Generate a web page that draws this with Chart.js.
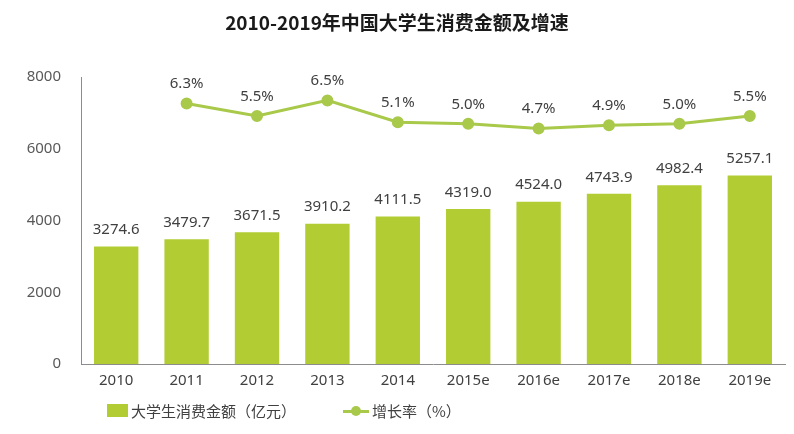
<!DOCTYPE html>
<html lang="zh">
<head>
<meta charset="UTF-8">
<title>2010-2019年中国大学生消费金额及增速</title>
<script src="https://cdn.jsdelivr.net/npm/chart.js"></script>
<style>
  body { margin: 0; background: #fff; }
  #wrap { position: relative; width: 794px; height: 434px; }
  #title {
    position: absolute; left: 0; top: 8px; width: 794px; text-align: center;
    font: bold 19px "Noto Sans CJK SC", sans-serif; color: #1a1a1a;
  }
  .leg {
    position: absolute; top: 400px; font: 15px "Noto Sans CJK SC", sans-serif; color: #404040;
    display: flex; align-items: center;
  }
  .swatch { display: inline-block; width: 21px; height: 13px; background: #b1cd33; margin-right: 3px; }
  .lineico { position: relative; display: inline-block; width: 26px; height: 12px; margin-right: 3px; }
  .lineico:before { content: ""; position: absolute; left: 0; right: 0; top: 5px; height: 3px; background: #a9c94a; }
  .lineico:after { content: ""; position: absolute; left: 8px; top: 1px; width: 10px; height: 10px; border-radius: 50%; background: #a9c94a; }
</style>
</head>
<body>
<div id="wrap">
  <div id="title">2010-2019年中国大学生消费金额及增速</div>
  <canvas id="c" width="794" height="434"></canvas>
  <div class="leg" style="left:107px"><span class="swatch"></span>大学生消费金额（亿元）</div>
  <div class="leg" style="left:343px"><span class="lineico"></span>增长率（%）</div>
</div>
<script>
  var years = ['2010', '2011', '2012', '2013', '2014', '2015e', '2016e', '2017e', '2018e', '2019e'];
  var spending = [3274.6, 3479.7, 3671.5, 3910.2, 4111.5, 4319.0, 4524.0, 4743.9, 4982.4, 5257.1];
  var growth = [null, 6.3, 5.5, 6.5, 5.1, 5.0, 4.7, 4.9, 5.0, 5.5];

  var valueLabels = {
    id: 'valueLabels',
    afterDatasetsDraw: function (chart) {
      var ctx = chart.ctx;
      ctx.save();
      ctx.fillStyle = '#404040';
      ctx.font = '15px "Noto Sans", sans-serif';
      ctx.textAlign = 'center';
      ctx.textBaseline = 'bottom';
      chart.getDatasetMeta(0).data.forEach(function (bar, i) {
        ctx.fillText(spending[i].toFixed(1), bar.x, bar.y - 9);
      });
      chart.getDatasetMeta(1).data.forEach(function (pt, i) {
        if (growth[i] == null) return;
        ctx.fillText(growth[i].toFixed(1) + '%', pt.x, pt.y - 12);
      });
      ctx.restore();
    }
  };

  var ctx = document.getElementById('c').getContext('2d');
  new Chart(ctx, {
    data: {
      labels: years,
      datasets: [{
        type: 'bar',
        label: '大学生消费金额（亿元）',
        data: spending,
        backgroundColor: '#b1cd33',
        categoryPercentage: 1,
        barPercentage: 0.63,
        yAxisID: 'y',
        order: 2
      }, {
        type: 'line',
        label: '增长率（%）',
        data: growth,
        borderColor: '#a9c94a',
        backgroundColor: '#a9c94a',
        borderWidth: 3,
        pointRadius: 4.5,
        tension: 0,
        yAxisID: 'y2',
        order: 1
      }]
    },
    options: {
      responsive: false,
      animation: false,
      layout: { padding: { left: 21, right: 9, top: 77, bottom: 40 } },
      plugins: { legend: { display: false }, tooltip: { enabled: false } },
      scales: {
        x: {
          grid: { display: false, drawTicks: false },
          border: { color: '#8c8c8c', width: 1 },
          ticks: { color: '#404040', font: { size: 15, family: 'Noto Sans' }, padding: 8 },
          afterFit: function (s) { s.height = 30; }
        },
        y: {
          min: 0, max: 8000,
          ticks: {
            stepSize: 2000, color: '#595959', font: { size: 15, family: 'Noto Sans' }, padding: 20,
            callback: function (v) { return String(v); }
          },
          grid: { display: false, drawTicks: false },
          border: { color: '#8c8c8c', width: 1 },
          afterFit: function (s) { s.width = 60; }
        },
        y2: {
          display: false,
          min: -10.4, max: 8.0
        }
      }
    },
    plugins: [valueLabels]
  });
</script>
</body>
</html>
